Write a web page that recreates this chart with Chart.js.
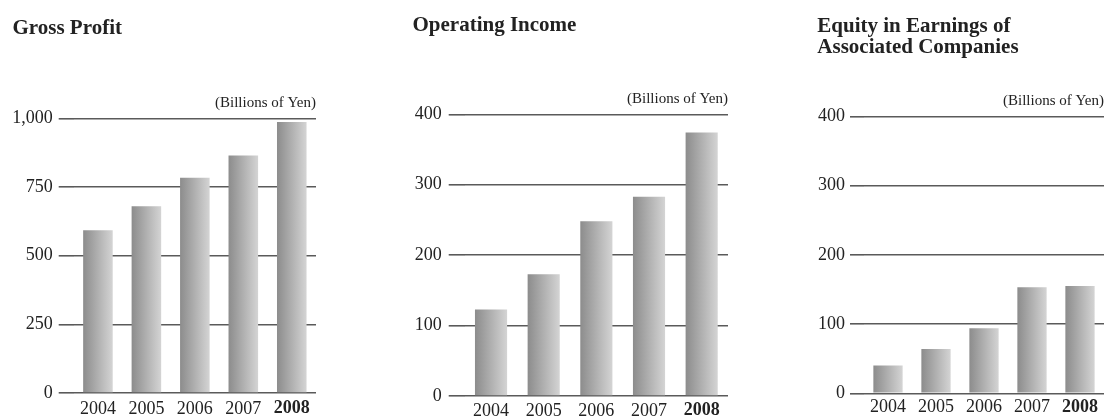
<!DOCTYPE html>
<html>
<head>
<meta charset="utf-8">
<script src="https://cdn.jsdelivr.net/npm/chart.js@4/dist/chart.umd.min.js"></script>
<style>
  body { margin: 0; background: #fff; }
  .panel { position: absolute; top: 0; height: 416px; }
</style>
</head>
<body>
<div class="panel" style="left:0;width:320px"><canvas id="gross"></canvas></div>
<div class="panel" style="left:360px;width:368px"><canvas id="operating"></canvas></div>
<div class="panel" style="left:760px;width:344px"><canvas id="equity"></canvas></div>
<script>
// values in billions of yen, fiscal years
const years = ['2004', '2005', '2006', '2007', '2008'];
const grossProfit = [593, 680, 784, 865, 987];
const operatingIncome = [123, 173, 248, 283, 374];
const equityEarnings = [40, 64, 94, 153, 155];

const grossTicks = { max: 1000, step: 250 };
const incomeTicks = { max: 400, step: 100 };
const unitLabel = '(Billions of Yen)';

const serif = '"Liberation Serif", "Times New Roman", serif';
const ink = '#222';
const rule = '#5a5a5a';
const barShare = 0.61;

// horizontal grey shading across each bar
function barFill(ctx) {
    const chart = ctx.chart;
    const xs = chart.scales.x;
    if (!chart.chartArea || !xs || ctx.type !== 'data') return '#aaa';
    const center = xs.getPixelForValue(ctx.dataIndex);
    const half = xs.width / years.length * barShare / 2;
    const g = chart.ctx.createLinearGradient(center - half, 0, center + half, 0);
    g.addColorStop(0, '#8c8c8c');
    g.addColorStop(1, '#d4d4d4');
    return g;
}

// panel heading and the unit note above the top rule
const panelText = {
    id: 'panelText',
    afterDraw(chart, args, opts) {
        const ctx = chart.ctx, area = chart.chartArea;
        ctx.save();
        ctx.fillStyle = ink;
        ctx.font = 'bold 21px ' + serif;
        ctx.textAlign = 'left';
        ctx.textBaseline = 'alphabetic';
        opts.title.forEach((line, i) => ctx.fillText(line, opts.x, opts.y + i * 21.6));
        ctx.font = '15px ' + serif;
        ctx.textAlign = 'right';
        ctx.textBaseline = 'middle';
        ctx.fillText(unitLabel, area.right, area.top - 15);
        ctx.restore();
    }
};

function makeChart(id, values, ticks, box) {
    return new Chart(document.getElementById(id), {
        type: 'bar',
        data: {
            labels: years,
            datasets: [{
                data: values,
                backgroundColor: barFill,
                borderWidth: 0,
                barPercentage: barShare,
                categoryPercentage: 1
            }]
        },
        options: {
            responsive: true,
            maintainAspectRatio: false,
            animation: false,
            layout: { padding: { left: 0, right: box.right, top: box.top, bottom: 0 } },
            plugins: {
                legend: { display: false },
                tooltip: { enabled: false },
                panelText: { title: box.title, x: box.titleX, y: box.titleY }
            },
            scales: {
                x: {
                    grid: { display: false, drawTicks: false },
                    border: { display: false },
                    ticks: {
                        color: ink,
                        padding: box.xPad,
                        font: c => ({ family: serif, size: 18, weight: c.index === years.length - 1 ? 'bold' : 'normal' })
                    },
                    afterFit: s => { s.height = box.xHeight; }
                },
                y: {
                    min: 0,
                    max: ticks.max,
                    border: { display: false },
                    grid: {
                        color: rule,
                        lineWidth: 1.6,
                        drawTicks: true,
                        tickLength: box.tick
                    },
                    ticks: {
                        stepSize: ticks.step,
                        color: ink,
                        padding: box.pad,
                        font: { family: serif, size: 18 },
                        callback: v => v.toLocaleString('en-US')
                    },
                    afterFit: s => { s.width = box.yWidth; }
                }
            }
        },
        plugins: [panelText]
    });
}

makeChart('gross', grossProfit, grossTicks,
    { top: 118.5, right: 4, xHeight: 23, xPad: 5, yWidth: 73.7, tick: 15, pad: 6,
      title: ['Gross Profit'], titleX: 12.5, titleY: 34 });
makeChart('operating', operatingIncome, incomeTicks,
    { top: 114.3, right: 0, xHeight: 20, xPad: 4, yWidth: 104.7, tick: 16, pad: 7,
      title: ['Operating Income'], titleX: 52.5, titleY: 30.5 });
makeChart('equity', equityEarnings, incomeTicks,
    { top: 116.3, right: 0, xHeight: 22.7, xPad: 3.5, yWidth: 104, tick: 14, pad: 5,
      title: ['Equity in Earnings of', 'Associated Companies'], titleX: 57.3, titleY: 31.7 });
</script>
</body>
</html>
